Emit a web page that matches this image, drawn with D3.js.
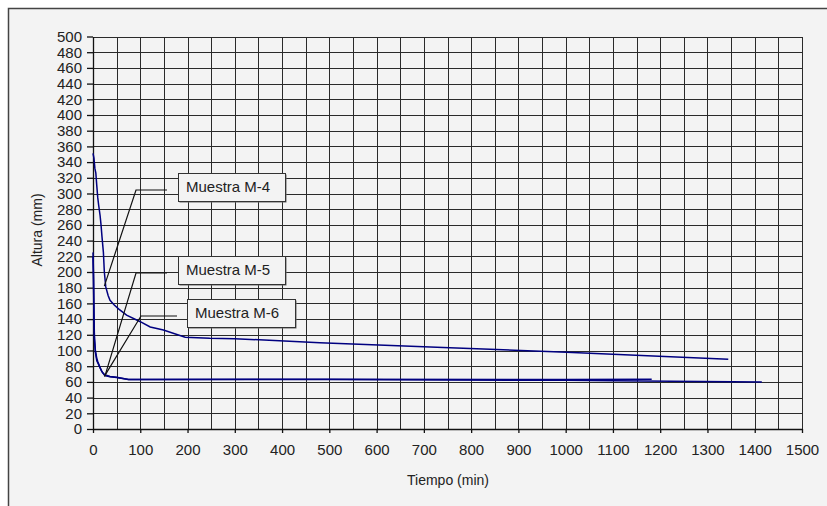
<!DOCTYPE html>
<html lang="es">
<head>
  <meta charset="UTF-8">
  <title>Altura vs Tiempo - Muestras M-4, M-5, M-6</title>
  <script src="https://d3js.org/d3.v7.min.js"></script>
  <style>
    body {
      margin: 0;
      padding: 0;
      background: #ffffff;
    }
    svg text {
      font-family: "Liberation Sans", Arial, sans-serif;
      fill: #222;
    }
    .axis text {
      font-size: 15px;
    }
    .grid line {
      stroke: #2a2a2a;
      stroke-width: 1;
      shape-rendering: crispEdges;
    }
    .serie {
      fill: none;
      stroke: #000080;
      stroke-width: 1.5;
    }
  </style>
</head>
<body>
  <script>
    // Muestra M-4
    const m4Tiempo = [0, 2, 4, 6, 8, 10, 12, 15, 17, 19, 22, 24, 27, 32, 36, 45, 54, 71, 99, 121, 149, 195, 247, 300, 480, 755, 1002, 1344];
    const m4Altura = [351, 345, 332, 326, 310, 295, 285, 272, 260, 245, 225, 200, 181, 170, 164, 158, 153, 145, 137, 130, 126, 117, 115.5, 115, 110, 103.6, 97.7, 89];

    // Muestra M-5
    const m5Tiempo = [0, 1, 2, 3, 5, 8, 10, 15, 20, 25, 36, 50, 75, 100, 500, 1000, 1100, 1415];
    const m5Altura = [225, 200, 150, 117, 100, 90, 86, 78, 72, 69, 67, 66, 63, 63, 63, 62, 61.5, 60];

    // Muestra M-6
    const m6Tiempo = [0, 1, 2, 3, 5, 8, 12, 18, 25, 36, 50, 75, 100, 500, 1000, 1182];
    const m6Altura = [220, 190, 140, 115, 98, 87, 82, 74, 68, 66.5, 65.5, 63, 63, 63.5, 63, 63.3];

    // etiquetas: texto, punto señalado (tiempo, altura)
    const etiquetas = ["Muestra M-4", "Muestra M-5", "Muestra M-6"];
    const etiquetaPunto = [[24, 182], [25, 67], [24, 67]];

    const xTicks = d3.range(0, 1501, 100);
    const yTicks = d3.range(0, 501, 20);

    const width = 827, height = 506;
    const svg = d3.select("body").append("svg")
      .attr("width", width)
      .attr("height", height);

    // marco exterior
    svg.append("rect")
      .attr("x", 8.5).attr("y", 8.5)
      .attr("width", 840).attr("height", 520)
      .attr("fill", "#f3f3f3")
      .attr("stroke", "#444")
      .attr("stroke-width", 1.5);

    const x = d3.scaleLinear().domain([0, 1500]).range([93, 802]);
    const y = d3.scaleLinear().domain([0, 500]).range([429, 36.5]);

    // rejilla
    const grid = svg.append("g").attr("class", "grid");
    grid.selectAll("line.v")
      .data(d3.range(50, 1501, 50))
      .join("line")
      .attr("class", "v")
      .attr("x1", d => Math.round(x(d)) + 0.5).attr("x2", d => Math.round(x(d)) + 0.5)
      .attr("y1", y(0)).attr("y2", y(500));
    grid.selectAll("line.h")
      .data(yTicks.slice(1))
      .join("line")
      .attr("class", "h")
      .attr("x1", x(0)).attr("x2", x(1500))
      .attr("y1", d => Math.round(y(d)) + 0.5).attr("y2", d => Math.round(y(d)) + 0.5);

    // ejes
    svg.append("g")
      .attr("class", "axis")
      .attr("transform", `translate(0,${y(0)})`)
      .call(d3.axisBottom(x).tickValues(xTicks).tickFormat(d3.format("d"))
        .tickSize(4).tickPadding(11).tickSizeOuter(0));
    svg.append("g")
      .attr("class", "axis")
      .attr("transform", `translate(${x(0)},0)`)
      .call(d3.axisLeft(y).tickValues(yTicks).tickFormat(d3.format("d"))
        .tickSize(6).tickPadding(5).tickSizeOuter(0));
    svg.selectAll(".axis path, .axis line").attr("stroke", "#111").attr("stroke-width", 1.3);

    svg.append("text")
      .attr("x", 448).attr("y", 485)
      .attr("text-anchor", "middle")
      .style("font-size", "14px")
      .text("Tiempo (min)");

    svg.append("text")
      .attr("transform", "translate(42,230) rotate(-90)")
      .attr("text-anchor", "middle")
      .style("font-size", "14px")
      .text("Altura (mm)");

    // series
    const line = d3.line().x(d => x(d[0])).y(d => y(d[1]));
    const series = [
      d3.zip(m5Tiempo, m5Altura),
      d3.zip(m6Tiempo, m6Altura),
      d3.zip(m4Tiempo, m4Altura)
    ];
    svg.append("g")
      .selectAll("path")
      .data(series)
      .join("path")
      .attr("class", "serie")
      .attr("d", line);

    // cuadros de etiqueta con líneas guía
    const cajas = [
      { x: 178, y: 173, w: 107, h: 28, lx0: 136, lx1: 167, ly: 190 },
      { x: 178, y: 256, w: 107, h: 28, lx0: 136, lx1: 167, ly: 273 },
      { x: 187, y: 299, w: 108, h: 28, lx0: 141, lx1: 177, ly: 316 }
    ];
    const eg = svg.append("g")
      .selectAll("g")
      .data(cajas)
      .join("g");
    eg.append("path")
      .attr("fill", "none")
      .attr("stroke", "#111")
      .attr("stroke-width", 1.2)
      .attr("d", (d, i) => `M${x(etiquetaPunto[i][0])},${y(etiquetaPunto[i][1])}L${d.lx0},${d.ly}L${d.lx1},${d.ly}`);
    eg.append("rect")
      .attr("x", d => d.x + 1.5).attr("y", d => d.y + 1.5)
      .attr("width", d => d.w).attr("height", d => d.h)
      .attr("fill", "#666");
    eg.append("rect")
      .attr("x", d => d.x + 0.5).attr("y", d => d.y + 0.5)
      .attr("width", d => d.w).attr("height", d => d.h)
      .attr("fill", "#f3f3f3")
      .attr("stroke", "#333");
    eg.append("text")
      .attr("x", d => d.x + 8)
      .attr("y", d => d.y + d.h / 2 + 5)
      .style("font-size", "15px")
      .text((d, i) => etiquetas[i]);
  </script>
</body>
</html>
